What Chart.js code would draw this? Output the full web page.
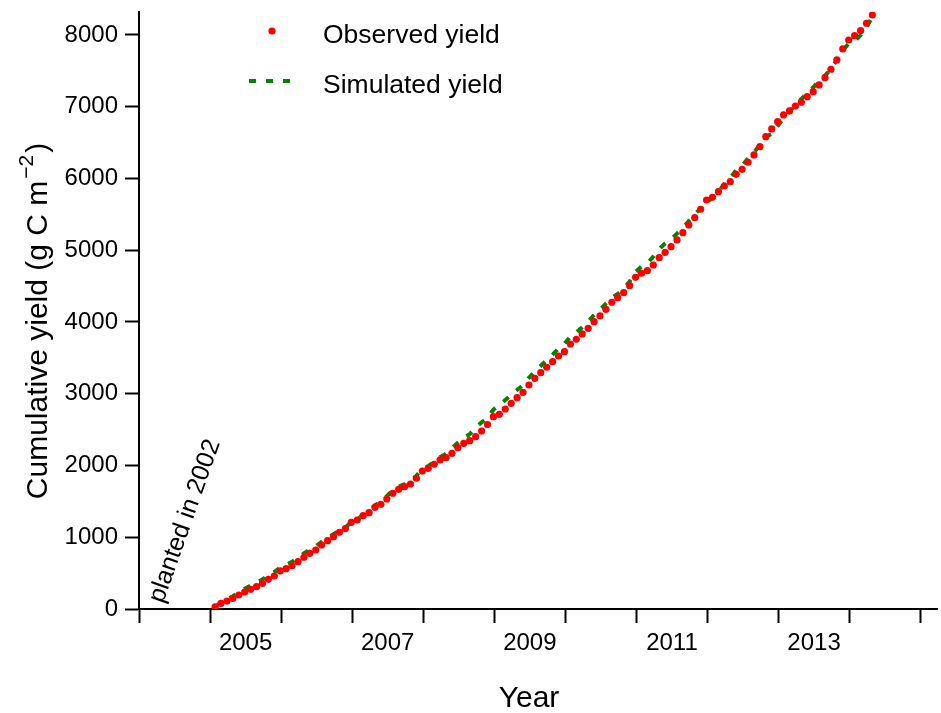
<!DOCTYPE html>
<html>
<head>
<meta charset="utf-8">
<script src="https://cdn.jsdelivr.net/npm/chart.js@4/dist/chart.umd.min.js"></script>
<style>
  html, body { margin: 0; padding: 0; background: #ffffff; }
  #wrap { width: 941px; height: 713px; }
</style>
</head>
<body>
<div id="wrap"><canvas id="c" width="941" height="713"></canvas></div>
<script>
// Monthly cumulative yield (g C m-2), first value = January 2005
const firstYear = 2005;
const observedYield = [
  30, 79, 111, 149, 195, 237, 275, 311, 358, 414, 460, 530,
  562, 603, 659, 721, 776, 822, 892, 952, 1008, 1069, 1122, 1208,
  1240, 1300, 1342, 1417, 1459, 1533, 1613, 1668, 1705, 1742, 1822, 1923,
  1961, 2017, 2077, 2109, 2170, 2248, 2309, 2346, 2401, 2481, 2570, 2680,
  2714, 2787, 2867, 2945, 3020, 3122, 3215, 3293, 3369, 3447, 3526, 3586,
  3693, 3759, 3833, 3912, 4004, 4084, 4177, 4275, 4339, 4409, 4506, 4623,
  4679, 4715, 4794, 4896, 4971, 5049, 5143, 5244, 5352, 5454, 5571, 5700,
  5738, 5816, 5895, 5955, 6058, 6128, 6226, 6328, 6443, 6582, 6690, 6792,
  6885, 6941, 7010, 7062, 7140, 7210, 7303, 7405, 7522, 7652, 7805, 7930,
  7990, 8060, 8163, 8279
];
const simulatedYield = [
  30, 89, 131, 179, 235, 282, 325, 366, 413, 469, 515, 580,
  612, 658, 714, 776, 831, 872, 937, 992, 1043, 1099, 1137, 1213,
  1245, 1315, 1367, 1447, 1494, 1573, 1653, 1703, 1740, 1782, 1857, 1953,
  1991, 2052, 2117, 2164, 2240, 2318, 2384, 2436, 2531, 2601, 2660, 2780,
  2844, 2912, 2982, 3051, 3120, 3222, 3313, 3391, 3467, 3545, 3631, 3697,
  3798, 3857, 3928, 4005, 4097, 4169, 4257, 4340, 4391, 4463, 4562, 4698,
  4772, 4820, 4910, 5016, 5096, 5154, 5231, 5314, 5407, 5503, 5581, 5672,
  5723, 5816, 5925, 6005, 6118, 6183, 6278, 6363, 6466, 6582, 6620, 6732,
  6839, 6931, 7030, 7107, 7196, 7268, 7363, 7435, 7522, 7652, 7785, 7880,
  7910, 7995, 8110, 8251
];
const yearTicks = [2004, 2005, 2006, 2007, 2008, 2009, 2010, 2011, 2012, 2013, 2014, 2015];
const yearLabels = [2005, 2007, 2009, 2011, 2013];
const yieldTicks = [0, 1000, 2000, 3000, 4000, 5000, 6000, 7000, 8000];

const FONT = '"Liberation Sans", Arial, Helvetica, sans-serif';
const RED = '#ff0000';
const GREEN = '#008400';

// monthly values are dated late in their month
const toPoints = arr => arr.map((v, i) => ({ x: firstYear + (i + 0.85) / 12, y: v }));

// year boundaries carry tick marks, year names sit at mid-year
const xTickValues = [];
yearTicks.forEach(y => { xTickValues.push(y); if (y < yearTicks[yearTicks.length - 1]) xTickValues.push(y + 0.5); });

const decorations = {
  id: 'decorations',
  afterDraw(chart) {
    const ctx = chart.ctx;
    ctx.save();
    ctx.fillStyle = '#000';

    // x axis title
    ctx.font = '30px ' + FONT;
    ctx.textAlign = 'center';
    ctx.textBaseline = 'alphabetic';
    ctx.fillText('Year', 529, 707);

    // y axis title with superscript unit
    const main = 'Cumulative yield (g C m';
    const sup = '\u22122';
    const close = ')';
    ctx.font = '30px ' + FONT;
    const wMain = ctx.measureText(main).width;
    const wClose = ctx.measureText(close).width;
    ctx.font = '21px ' + FONT;
    const wSup = ctx.measureText(sup).width;
    const total = wMain + 2 + wSup + 2 + wClose;
    ctx.translate(47, 321);
    ctx.rotate(-Math.PI / 2);
    ctx.textAlign = 'left';
    let x0 = -total / 2;
    ctx.font = '30px ' + FONT;
    ctx.fillText(main, x0, 0);
    x0 += wMain + 2;
    ctx.font = '21px ' + FONT;
    ctx.fillText(sup, x0, -14);
    x0 += wSup + 2;
    ctx.font = '30px ' + FONT;
    ctx.fillText(close, x0, 0);
    ctx.setTransform(1, 0, 0, 1, 0, 0);

    // legend
    ctx.fillStyle = RED;
    ctx.beginPath();
    ctx.arc(272, 31, 3.6, 0, Math.PI * 2);
    ctx.fill();
    ctx.strokeStyle = GREEN;
    ctx.lineWidth = 4;
    ctx.setLineDash([7, 10]);
    ctx.beginPath();
    ctx.moveTo(249, 81);
    ctx.lineTo(292, 81);
    ctx.stroke();
    ctx.setLineDash([]);
    ctx.fillStyle = '#000';
    ctx.font = '26.5px ' + FONT;
    ctx.textAlign = 'left';
    ctx.fillText('Observed yield', 323, 43);
    ctx.fillText('Simulated yield', 323, 93);

    // planting note
    ctx.translate(185, 521);
    ctx.rotate(-70.5 * Math.PI / 180);
    ctx.font = '25px ' + FONT;
    ctx.textAlign = 'center';
    ctx.textBaseline = 'middle';
    ctx.fillText('planted in 2002', 0, 0);
    ctx.restore();
  }
};

new Chart(document.getElementById('c'), {
  type: 'scatter',
  data: {
    datasets: [
      {
        label: 'Observed yield',
        data: toPoints(observedYield),
        showLine: false,
        pointRadius: 3.6,
        pointBorderWidth: 0,
        pointBackgroundColor: RED,
        pointBorderColor: RED,
        order: 0
      },
      {
        label: 'Simulated yield',
        data: toPoints(simulatedYield),
        showLine: true,
        borderColor: GREEN,
        borderWidth: 4,
        borderDash: [7, 10],
        pointRadius: 0,
        tension: 0,
        order: 1
      }
    ]
  },
  options: {
    responsive: false,
    animation: false,
    devicePixelRatio: 1,
    layout: { padding: { top: 12, right: 0, left: 0, bottom: 0 } },
    plugins: { legend: { display: false }, tooltip: { enabled: false } },
    scales: {
      x: {
        type: 'linear',
        min: 2004,
        max: 2015.23,
        afterBuildTicks: s => { s.ticks = xTickValues.map(v => ({ value: v })); },
        afterFit: s => { s.height = 104; s.paddingLeft = 0; s.paddingRight = 0; },
        ticks: {
          autoSkip: false,
          maxRotation: 0,
          padding: 6,
          color: '#000',
          font: { family: FONT, size: 24 },
          callback: v => (yearLabels.includes(v - 0.5) ? String(v - 0.5) : '')
        },
        grid: {
          drawOnChartArea: false,
          drawTicks: true,
          tickLength: 14,
          tickWidth: 2,
          tickColor: c => (c.tick && c.tick.value % 1 === 0 ? '#000' : 'rgba(0,0,0,0)')
        },
        border: { display: true, color: '#000', width: 2 }
      },
      y: {
        type: 'linear',
        min: 0,
        max: 8320,
        afterBuildTicks: s => { s.ticks = yieldTicks.map(v => ({ value: v })); },
        afterFit: s => { s.width = 139; s.paddingTop = 0; s.paddingBottom = 0; },
        ticks: {
          padding: 7,
          color: '#000',
          font: { family: FONT, size: 24 },
          callback: v => String(v)
        },
        grid: {
          drawOnChartArea: false,
          drawTicks: true,
          tickLength: 14,
          tickWidth: 2,
          tickColor: '#000'
        },
        border: { display: true, color: '#000', width: 2 }
      }
    }
  },
  plugins: [decorations]
});
</script>
</body>
</html>
